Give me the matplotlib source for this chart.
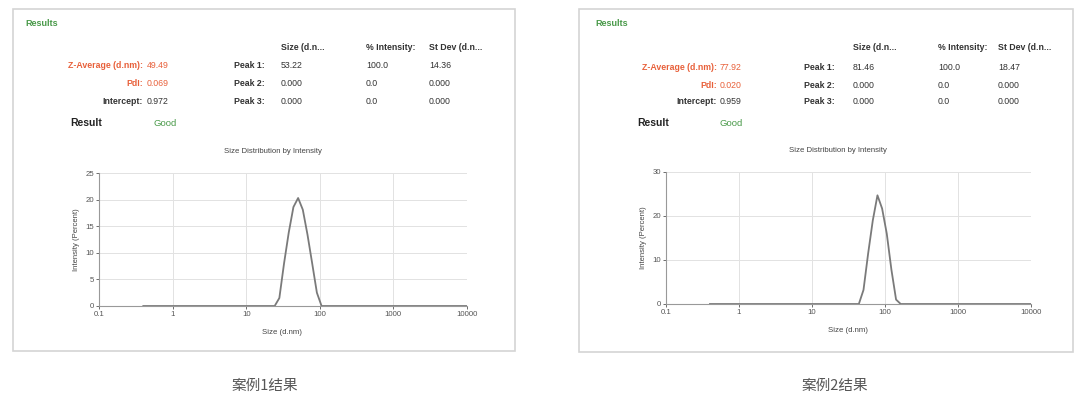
import matplotlib
matplotlib.use("Agg")
import matplotlib.pyplot as plt
from matplotlib.patches import Rectangle
from matplotlib.ticker import FixedLocator, NullFormatter

W, H = 1074, 401
plt.rcParams['font.family'] = ['Liberation Sans', 'Noto Sans CJK SC', 'DejaVu Sans']

# ---------------- data ----------------
sizes1 = [0.4, 24.36, 28.21, 32.67, 37.84, 43.82, 50.75, 58.77, 68.06, 78.82, 91.28, 105.7, 10000]
intensity1 = [0, 0, 1.5, 8.0, 13.8, 18.6, 20.3, 18.1, 13.4, 8.0, 2.5, 0, 0]

sizes2 = [0.4, 43.82, 50.75, 58.77, 68.06, 78.82, 91.28, 105.7, 122.4, 141.8, 164.2, 10000]
intensity2 = [0, 0, 3.2, 11.5, 19.0, 24.7, 21.7, 16.0, 7.8, 1.0, 0, 0]

x_ticks = [0.1, 1, 10, 100, 1000, 10000]
x_tick_labels = ["0.1", "1", "10", "100", "1000", "10000"]
y_ticks1 = [0, 5, 10, 15, 20, 25]
y_ticks2 = [0, 10, 20, 30]

summary_labels = ["Z-Average (d.nm):", "PdI:", "Intercept:"]
summary1 = ["49.49", "0.069", "0.972"]
summary2 = ["77.92", "0.020", "0.959"]
peak_labels = ["Peak 1:", "Peak 2:", "Peak 3:"]
col_headers = ["Size (d.n...", "% Intensity:", "St Dev (d.n..."]
peaks1 = [["53.22", "100.0", "14.36"], ["0.000", "0.0", "0.000"], ["0.000", "0.0", "0.000"]]
peaks2 = [["81.46", "100.0", "18.47"], ["0.000", "0.0", "0.000"], ["0.000", "0.0", "0.000"]]
captions = ["案例1结果", "案例2结果"]

RED = "#e8603a"
GREEN = "#4a9a4a"
DARK = "#333333"

fig = plt.figure(figsize=(W / 100, H / 100), dpi=100)
fig.patch.set_facecolor("white")


def fx(x):
    return x / W


def fy(y):
    return 1 - y / H


def box(x0, y0, x1, y1):
    fig.patches.append(Rectangle((fx(x0), fy(y1)), fx(x1) - fx(x0), fy(y0) - fy(y1),
                                 transform=fig.transFigure, fill=False,
                                 edgecolor="#d4d4d4", linewidth=1.2))


def txt(x, y, s, **kw):
    kw.setdefault("fontsize", 6.3)
    kw.setdefault("color", DARK)
    kw.setdefault("va", "center")
    fig.text(fx(x), fy(y), s, **kw)


box(13, 9, 515, 351)
box(579, 9, 1073, 352)

panels = [
    dict(lab_end=143, val_x=147, peak_end=265, cols=[281, 366, 429],
         res_x=70, good_x=153, summary=summary1, peaks=peaks1, results_x=25,
         rows=[48, 66, 84, 102, 123]),
    dict(lab_end=717, val_x=720, peak_end=835, cols=[853, 938, 998],
         res_x=637, good_x=720, summary=summary2, peaks=peaks2, results_x=595,
         rows=[47, 67, 85, 102, 123]),
]

for p in panels:
    rows = p["rows"]
    txt(p["results_x"], 23, "Results", color=GREEN, fontweight="bold", fontsize=6.5)
    for j, h in enumerate(col_headers):
        txt(p["cols"][j], rows[0], h, fontweight="bold")
    for i in range(3):
        c = RED if i < 2 else DARK
        txt(p["lab_end"], rows[i + 1], summary_labels[i], ha="right", color=c,
            fontweight="bold")
        txt(p["val_x"], rows[i + 1], p["summary"][i], color=c)
        txt(p["peak_end"], rows[i + 1], peak_labels[i], ha="right", fontweight="bold")
        for j in range(3):
            txt(p["cols"][j], rows[i + 1], p["peaks"][i][j])
    txt(p["res_x"], rows[4], "Result", fontweight="bold", fontsize=7.5, color="#222222")
    txt(p["good_x"], rows[4], "Good", color=GREEN, fontsize=6.8)


def make_plot(l, r, t, b, sizes, vals, yticks, ymax, title_xy, xlabel_xy):
    ax = fig.add_axes([fx(l), fy(b), fx(r) - fx(l), fy(t) - fy(b)])
    ax.plot(sizes, vals, color="#7a7a7a", linewidth=1.3)
    ax.set_xscale("log")
    ax.set_xlim(0.1, 10000)
    ax.set_ylim(0, ymax)
    ax.xaxis.set_major_locator(FixedLocator(x_ticks))
    ax.set_xticklabels(x_tick_labels)
    ax.xaxis.set_minor_formatter(NullFormatter())
    ax.xaxis.set_minor_locator(FixedLocator([]))
    ax.set_yticks(yticks)
    ax.tick_params(axis="both", labelsize=5.6, colors="#555555", length=2, width=0.6, pad=1.5)
    ax.grid(True, color="#e2e2e2", linewidth=0.7)
    for s in ["top", "right"]:
        ax.spines[s].set_visible(False)
    for s in ["left", "bottom"]:
        ax.spines[s].set_color("#999999")
        ax.spines[s].set_linewidth(0.8)
    ax.set_ylabel("Intensity (Percent)", fontsize=5.5, color="#444444", labelpad=4)
    txt(title_xy[0], title_xy[1], "Size Distribution by Intensity", ha="center", fontsize=5.6, color="#444444")
    txt(xlabel_xy[0], xlabel_xy[1], "Size (d.nm)", ha="center", fontsize=5.6, color="#444444")
    return ax


make_plot(99, 467, 173, 306, sizes1, intensity1, y_ticks1, 25, (273, 152), (282, 333))
make_plot(666, 1031, 172, 304, sizes2, intensity2, y_ticks2, 30, (838, 150), (848, 331))

txt(265, 386, captions[0], ha="center", fontsize=10.5, color="#555555",
    family=["Noto Sans CJK SC", "DejaVu Sans"])
txt(835, 386, captions[1], ha="center", fontsize=10.5, color="#555555",
    family=["Noto Sans CJK SC", "DejaVu Sans"])

fig.savefig("out.png", dpi=100)
